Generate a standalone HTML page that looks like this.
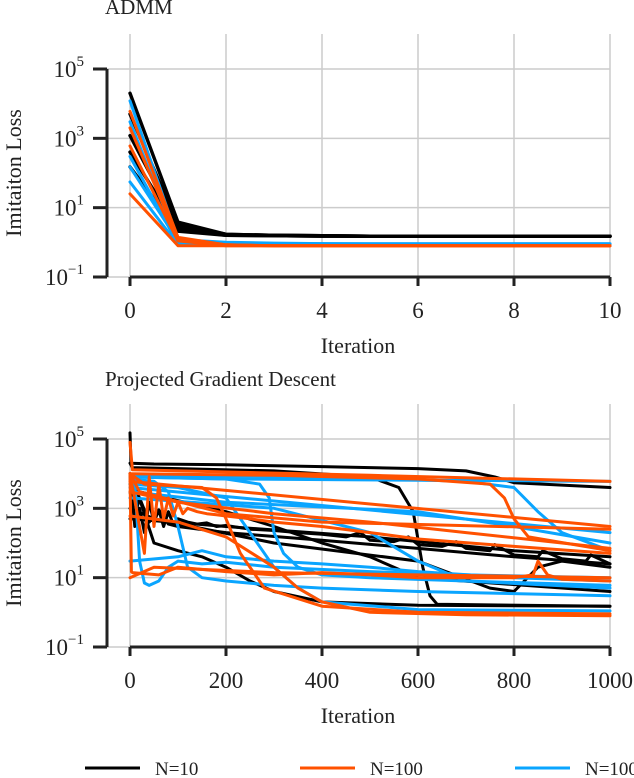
<!DOCTYPE html>
<html><head><meta charset="utf-8">
<style>
html,body{margin:0;padding:0;background:#fff;}
svg{display:block;font-family:"Liberation Serif","DejaVu Serif",serif;}
</style></head>
<body>
<svg id="chart" width="634" height="778" viewBox="0 0 634 778" xmlns="http://www.w3.org/2000/svg"></svg>
<script>
// ---- tick data ----
const admmXTicks = [0,2,4,6,8,10];
const pgdXTicks = [0,200,400,600,800,1000];
const yTickExps = [5,3,1,-1];
const admmIters = [0,1,2,3,4,5,6,7,8,9,10];

// ---- ADMM series (loss per iteration 0..10) ----
const admmBlack = [
  [20000,3.8,1.7,1.6,1.55,1.5,1.5,1.5,1.5,1.5,1.5],
  [5000,3.2,1.7,1.6,1.55,1.5,1.5,1.5,1.5,1.5,1.5],
  [1200,2.8,1.65,1.6,1.55,1.5,1.5,1.5,1.5,1.5,1.5],
  [400,2.4,1.6,1.55,1.5,1.5,1.5,1.5,1.5,1.5,1.5],
  [150,2.1,1.6,1.55,1.5,1.5,1.5,1.5,1.5,1.5,1.5]
];
const admmBlue = [
  [12000,1.2,1.0,0.95,0.92,0.9,0.9,0.9,0.9,0.9,0.9],
  [3000,1.0,0.95,0.92,0.9,0.9,0.9,0.9,0.9,0.9,0.9],
  [300,0.9,0.9,0.9,0.9,0.9,0.9,0.9,0.9,0.9,0.9],
  [150,1.1,0.95,0.92,0.9,0.9,0.9,0.9,0.9,0.9,0.9],
  [55,0.85,0.85,0.85,0.85,0.85,0.85,0.85,0.85,0.85,0.85]
];
const admmOrange = [
  [6000,1.4,0.85,0.8,0.8,0.8,0.8,0.8,0.8,0.8,0.8],
  [2000,1.3,0.85,0.8,0.8,0.8,0.8,0.8,0.8,0.8,0.8],
  [600,1.1,0.8,0.8,0.8,0.8,0.8,0.8,0.8,0.8,0.8],
  [25,0.8,0.8,0.8,0.8,0.8,0.8,0.8,0.8,0.8,0.8]
];

// ---- PGD series: iteration knots and losses ----
const pgdBlackX = [
  [0,2,50,200,400,600,700,760,800,1000],
  [0,5,100,300,500,560,590,610,625,640,1000],
  [0,10,20,30,40,50,60,70,80,90,100,120,140,160,180,200,250,300,350,400,450,480,500,550,580,600,650,680,700,750,760,800,850,860,900,950,960,1000],
  [0,5,50,100,150,200,250,300,400,600,1000],
  [0,20,200,300,400,500,600,1000],
  [0,50,300,600,750,800,850,900,1000],
  [0,200,500,800,1000],
  [0,10,20,40,60,80,100,200,400,600,800,1000]
];
const pgdBlackY = [
  [150000,20000,19000,18000,16000,14000,12000,8000,5500,4000],
  [20000,15000,14000,12000,8000,4000,800,20,3,1.7,1.5],
  [10000,300,1000,200,1500,400,900,300,800,350,500,400,350,380,300,320,250,230,200,180,150,200,120,110,150,90,80,110,70,60,90,45,40,60,35,30,45,25],
  [10000,8000,100,60,40,20,8,4,2,1.6,1.5],
  [5000,3000,800,300,100,40,10,4,3],
  [1000,500,100,30,5,4,20,30,20],
  [500,300,150,60,40],
  [3000,600,2000,400,900,350,300,200,120,70,40,25]
];
const pgdOrangeX = [
  [0,5,500,1000],
  [0,300,600,750,780,800,830,1000],
  [0,20,200,400,1000],
  [0,3,5,60,100,200,300,400,500,600,800,840,850,870,900,1000],
  [0,30,150,180,200,230,280,400,600,1000],
  [0,30,40,50,60,70,80,90,100,110,120,140,160,180,200,250,300,400,500,600,800,1000],
  [0,100,300,500,700,900,1000],
  [0,1000],
  [0,100,200,300,350,400,500,700,1000],
  [0,50,300,600,800,1000]
];
const pgdOrangeY = [
  [80000,13000,9000,6000],
  [10000,9000,7000,5000,2000,500,150,60],
  [10000,3000,700,400,250],
  [10000,15,14,12,20,15,12,14,12,10,10,12,30,12,9,8],
  [10000,5000,4000,2000,500,50,5,1.5,1,0.9],
  [10000,50,8000,300,5000,500,2000,600,1500,700,1000,800,700,650,600,500,400,300,200,130,80,50],
  [3000,1500,700,400,200,100,70],
  [6000,300],
  [600,400,150,20,5,2,1,0.85,0.8],
  [10,20,14,12,11,10]
];
const pgdBlueX = [
  [0,5,200,600,800,900,1000],
  [0,400,700,800,850,900,1000],
  [0,10,20,30,40,60,80,100,150,200,300,500,700,1000],
  [0,200,270,290,300,320,350,400,500,700,1000],
  [0,50,80,100,120,150,200,300,400,600,1000],
  [0,200,600,800,1000],
  [0,100,200,250,300,350,400,600,1000],
  [0,1000],
  [0,300,500,600,700,1000],
  [0,100,150,200,300,400,500,600,800,1000]
];
const pgdBlueY = [
  [10000,8000,7000,6500,6300,6100,6000],
  [9000,8000,6000,4000,800,200,60],
  [8000,6000,30,7,6,8,20,30,25,28,20,15,12,10],
  [8000,7000,5000,2000,200,50,20,12,10,8,6],
  [7000,6000,3000,300,20,10,8,6,5,4,3],
  [3000,1500,800,300,100],
  [5000,4000,2000,200,20,5,2,1.2,1.1],
  [4000,200],
  [2000,1000,200,30,8,5],
  [30,40,60,40,30,25,20,15,10,8]
];

const legendLabels = ["N=10","N=100","N=1000"];
const COLORS = {black:"#000000", orange:"#ff5100", blue:"#0aa5ff"};

// ---- helpers ----
const svg = document.getElementById('chart');
const NS = "http://www.w3.org/2000/svg";
function mk(tag, attrs, parent){
  const e = document.createElementNS(NS, tag);
  for (const k in attrs) e.setAttribute(k, attrs[k]);
  (parent||svg).appendChild(e);
  return e;
}
function panel(cfg){
  const g = mk('g', {});
  
  
  const L = 130, R = 610;
  const xs = v => L + (v - cfg.xmin) / (cfg.xmax - cfg.xmin) * (R - L);
  const ys = v => cfg.top + (5 - Math.log10(v)) * (cfg.bottom - cfg.top) / 6;
  cfg.xticks.forEach(t => {
    const l = mk('line', {x1:xs(t), x2:xs(t), y1:cfg.top-35, y2:cfg.bottom, stroke:'#cccccc', 'stroke-width':1.5}, g);
    
    
  });
  yTickExps.forEach(e => {
    const l = mk('line', {x1:107, x2:R, y1:ys(Math.pow(10,e)), y2:ys(Math.pow(10,e)), stroke:'#cccccc', 'stroke-width':1.5}, g);
    
    
  });
  const sg = mk('g', {fill:'none','stroke-linejoin':'round','stroke-linecap':'round'}, g);
  
  
  cfg.series.forEach(s => {
    s.ys.forEach((yArr, i) => {
      const xArr = s.xs ? s.xs[i] : admmIters;
      const d = yArr.map((v, j) => (j ? 'L' : 'M') + xs(xArr[j]).toFixed(1) + ',' + ys(v).toFixed(1)).join(' ');
      const p = mk('path', {d:d, stroke:s.color, 'stroke-width':s.w || 3}, sg);
      
      
    });
  });
  const ls = mk('line', {x1:107, x2:107, y1:ys(1e5), y2:ys(0.1), stroke:'#222', 'stroke-width':3}, g);
  
  
  const bs = mk('line', {x1:L, x2:R, y1:cfg.bottom, y2:cfg.bottom, stroke:'#222', 'stroke-width':3}, g);
  
  
  yTickExps.forEach(e => {
    const y = ys(Math.pow(10,e));
    const tk = mk('line', {x1:93, x2:107, y1:y, y2:y, stroke:'#222', 'stroke-width':3}, g);
    
    
    const t = mk('text', {x:84, y:y+8, 'text-anchor':'end', 'font-size':23, fill:'#222'}, g);
    
    
    t.textContent = '10';
    const sup = mk('tspan', {dy:-11, 'font-size':15}, t);
    sup.textContent = e < 0 ? '\u2212' + (-e) : String(e);
  });
  cfg.xticks.forEach(v => {
    const x = xs(v);
    const tk = mk('line', {x1:x, x2:x, y1:cfg.bottom, y2:cfg.bottom+9, stroke:'#222', 'stroke-width':3}, g);
    
    
    const t = mk('text', {x:x, y:cfg.bottom+41, 'text-anchor':'middle', 'font-size':23, fill:'#222'}, g);
    
    
    t.textContent = v;
  });
  const xt = mk('text', {x:358, y:cfg.bottom+76, 'text-anchor':'middle', 'font-size':22, fill:'#222'}, g);
  
  
  xt.textContent = 'Iteration';
  const cy = (ys(1e5)+ys(0.1))/2;
  const yt = mk('text', {x:0, y:0, transform:`translate(21,${cy}) rotate(-90)`, 'text-anchor':'middle', 'font-size':22, fill:'#222'}, g);
  
  
  yt.textContent = 'Imitaiton Loss';
  const tt = mk('text', {x:cfg.titleX, y:cfg.titleY, 'font-size':21, fill:'#222'}, g);
  
  
  tt.textContent = cfg.title;
}

panel({name:'admm-panel', title:'ADMM', titleX:105, titleY:14, top:69, bottom:277, xmin:0, xmax:10, xticks:admmXTicks,
  series:[
    {key:'admm-n10', color:COLORS.black, ys:admmBlack, w:3.4},
    {key:'admm-n1000', color:COLORS.blue, ys:admmBlue},
    {key:'admm-n100', color:COLORS.orange, ys:admmOrange}
  ]});
panel({name:'pgd-panel', title:'Projected Gradient Descent', titleX:105, titleY:386, top:439, bottom:647, xmin:0, xmax:1000, xticks:pgdXTicks,
  series:[
    {key:'pgd-n10', color:COLORS.black, xs:pgdBlackX, ys:pgdBlackY},
    {key:'pgd-n1000', color:COLORS.blue, xs:pgdBlueX, ys:pgdBlueY},
    {key:'pgd-n100', color:COLORS.orange, xs:pgdOrangeX, ys:pgdOrangeY}
  ]});

const lg = mk('g', {});


const legendColors = [COLORS.black, COLORS.orange, COLORS.blue];
const legendX = [85, 300, 515];
legendLabels.forEach((lab, i) => {
  const l = mk('line', {x1:legendX[i], x2:legendX[i]+55, y1:768, y2:768, stroke:legendColors[i], 'stroke-width':3}, lg);
  
  
  const t = mk('text', {x:legendX[i]+70, y:775, 'font-size':19, fill:'#222'}, lg);
  
  
  t.textContent = lab;
});
</script>
</body></html>
